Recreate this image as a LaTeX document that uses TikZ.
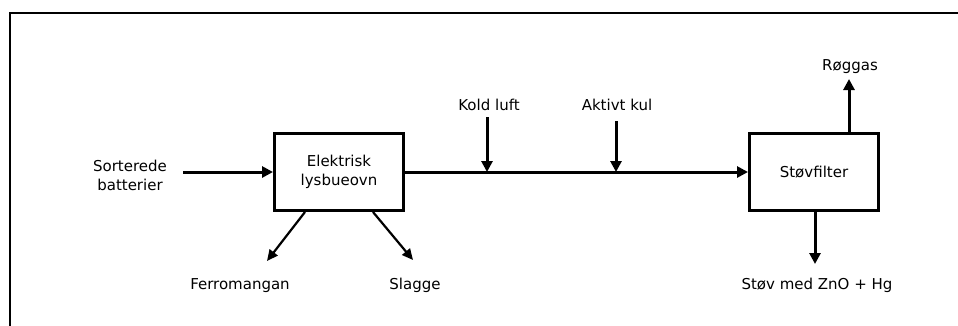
\documentclass[tikz,border=0pt]{standalone}
\usepackage{fontspec}
\setmainfont{DejaVu Sans}
\usetikzlibrary{arrows.meta}
\begin{document}
\begin{tikzpicture}[x=1pt,y=-1pt,
  every node/.style={font=\fontsize{15}{19}\selectfont, inner sep=0pt},
  unit/.style={draw, line width=3pt, minimum width=129pt, minimum height=77pt, align=center},
  lbl/.style={anchor=base, align=center},
  flow/.style={line width=3pt, -{Triangle[length=11pt,width=11pt]}},
  side/.style={line width=2.2pt, -{Triangle[length=11pt,width=10pt]}}]
  \useasboundingbox (0,0) rectangle (958,325);
  % outer frame (left and top edges)
  \draw[line width=2.5pt] (10,326) -- (10,13) -- (959,13);

  % process units
  \node[unit] (ovn) at (339,172) {Elektrisk\\lysbueovn};
  \node[unit] (filt) at (814,172) {Støvfilter};

  % labels
  \node[align=center] (batt) at (130,175) {Sorterede\\batterier};
  \node[lbl] (kold) at (489,110) {Kold luft};
  \node[lbl] (kul) at (617,110) {Aktivt kul};
  \node[lbl] (rog) at (850,70) {Røggas};
  \node[lbl] (ferro) at (240,289) {Ferromangan};
  \node[lbl] (slag) at (415,289) {Slagge};
  \node[lbl] (stov) at (817,289) {Støv med ZnO + Hg};

  % connector end points
  \coordinate (in) at (183,172);
  \coordinate (koldtop) at (487,117);
  \coordinate (koldjoin) at (487,172);
  \coordinate (kultop) at (616,121);
  \coordinate (kuljoin) at (616,172);
  \coordinate (rogbase) at (849,132);
  \coordinate (rogtip) at (849,79);
  \coordinate (stovbase) at (815,212);
  \coordinate (stovtip) at (815,264);
  \coordinate (ferrobase) at (305,212);
  \coordinate (ferrotip) at (267,261);
  \coordinate (slagbase) at (373,212);
  \coordinate (slagtip) at (413,260);

  % flows
  \draw[flow] (in) -- (ovn.west);
  \draw[flow] (ovn.east) -- (filt.west);
  \draw[flow] (koldtop) -- (koldjoin);
  \draw[flow] (kultop) -- (kuljoin);
  \draw[flow] (rogbase) -- (rogtip);
  \draw[flow] (stovbase) -- (stovtip);
  \draw[side] (ferrobase) -- (ferrotip);
  \draw[side] (slagbase) -- (slagtip);
\end{tikzpicture}
\end{document}
